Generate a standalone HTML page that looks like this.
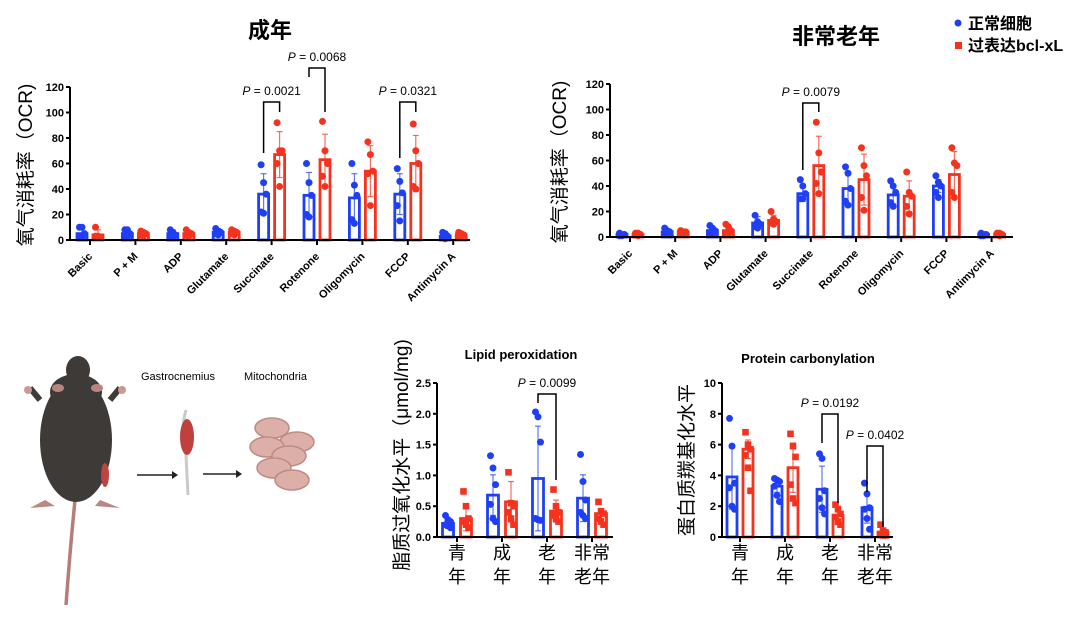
<!DOCTYPE html>
<html><head><meta charset="utf-8"><style>
body{margin:0;background:#fff;}
svg{display:block;font-family:"Liberation Sans","Noto Sans CJK SC",sans-serif;}
</style></head><body>
<svg id="fig" width="1079" height="622" viewBox="0 0 1079 622" xmlns="http://www.w3.org/2000/svg">
<rect width="1079" height="622" fill="#fff"/>
<text x="270" y="38" font-size="22" font-weight="bold" text-anchor="middle" font-family="'Liberation Sans','Noto Sans CJK SC',sans-serif">成年</text>
<text x="836" y="44" font-size="22" font-weight="bold" text-anchor="middle" font-family="'Liberation Sans','Noto Sans CJK SC',sans-serif">非常老年</text>
<g>
<circle cx="958" cy="23" r="3.5" fill="#1f3ff5"/>
<text x="968" y="29" font-size="16" font-weight="bold">正常细胞</text>
<rect x="955" y="42" width="7" height="7" fill="#f5321e"/>
<text x="968" y="51" font-size="16" font-weight="bold">过表达bcl-xL</text>
</g>
<g>
<path d="M75 500 Q70 550 66 605" stroke="#b87c78" stroke-width="3.5" fill="none"/>
<path d="M45 500 L30 508 L55 506 Z M100 500 L120 508 L95 506Z" fill="#b98884"/>
<path d="M40 400 L30 388 M110 400 L120 388" stroke="#3e3a37" stroke-width="6"/>
<circle cx="28" cy="390" r="4" fill="#c79a94"/><circle cx="122" cy="390" r="4" fill="#c79a94"/>
<ellipse cx="76" cy="440" rx="36" ry="62" fill="#3e3a37"/>
<ellipse cx="76" cy="392" rx="26" ry="18" fill="#3e3a37"/>
<ellipse cx="78" cy="370" rx="12" ry="14" fill="#3e3a37"/>
<ellipse cx="58" cy="388" rx="6" ry="4" fill="#b9857f"/><ellipse cx="97" cy="388" rx="6" ry="4" fill="#b9857f"/>
<ellipse cx="105" cy="475" rx="4" ry="12" fill="#c0443e"/>
<text x="141" y="380" font-size="11">Gastrocnemius</text>
<text x="244" y="380" font-size="11">Mitochondria</text>
<path d="M186 410 Q180 430 186 455 L188 495" stroke="#c9c9c9" stroke-width="3" fill="none"/>
<ellipse cx="187" cy="437" rx="7" ry="18" fill="#c0403d"/>
<line x1="137" y1="475" x2="172" y2="475" stroke="#222" stroke-width="1.5"/><path d="M172 471 L178 475 L172 479Z" fill="#222"/>
<line x1="203" y1="474" x2="236" y2="474" stroke="#222" stroke-width="1.5"/><path d="M236 470 L242 474 L236 478Z" fill="#222"/>
<g fill="#dcb0a8" stroke="#c08a84" stroke-width="1.5">
<ellipse cx="272" cy="428" rx="17" ry="10"/><ellipse cx="297" cy="442" rx="17" ry="10"/><ellipse cx="267" cy="447" rx="17" ry="10"/>
<ellipse cx="289" cy="456" rx="17" ry="10"/><ellipse cx="274" cy="468" rx="17" ry="10"/><ellipse cx="292" cy="480" rx="17" ry="10"/>
</g></g>
<g id="charts"></g>
</svg>
<script>
// ---- Chart A: adult OCR ----
const ocrCategories = ["Basic","P + M","ADP","Glutamate","Succinate","Rotenone","Oligomycin","FCCP","Antimycin A"];
const adultNormalMean = [5,5,5,6,36,35,33,36,3];
const adultNormalSD = [4,3,3,3,16,18,19,16,2];
const adultBclMean = [4,5,5,6,67,63,54,60,4];
const adultBclSD = [4,2,2,2,18,20,20,22,2];
const adultNormalPts = [[10,10,5,3,2],[8,8,5,3,2],[8,6,4,3,2],[9,7,6,5,4],[59,45,36,22,21],[60,45,35,20,18],[60,43,35,16,13],[56,46,37,27,15],[6,5,3,2,1]];
const adultBclPts = [[10,3,2,3,2],[7,6,5,4,3],[8,6,5,4,3],[8,7,6,5,4],[92,70,70,60,42],[93,70,60,50,42],[77,67,54,52,27],[91,70,60,42,40],[6,5,4,3,2]];
const ocrTicks = [0,20,40,60,80,100,120];
// ---- Chart B: very old OCR ----
const oldNormalMean = [2,4,5,11,34,38,33,40,2];
const oldNormalSD = [1,2,3,5,6,12,7,5,1];
const oldBclMean = [2,4,5,13,56,45,32,49,2];
const oldBclSD = [1,1,3,4,23,20,12,18,1];
const oldNormalPts = [[3,2,2,1,1],[7,5,4,3,2],[9,7,5,3,2],[17,12,10,8,7],[45,40,34,30,30],[55,50,38,28,25],[44,40,35,27,24],[48,43,40,35,31],[3,2,2,1,1]];
const oldBclPts = [[3,3,2,2,1],[5,4,4,3,3],[10,8,5,3,2],[20,14,12,11,10],[90,66,51,42,34],[70,56,48,31,21],[51,35,32,24,18],[70,58,56,35,31],[3,3,2,2,1]];
// ---- Chart C: lipid peroxidation ----
const ageGroups = [["青","年"],["成","年"],["老","年"],["非常","老年"]];
const lipidNormalMean = [0.22,0.68,0.95,0.63];
const lipidNormalSD = [0.08,0.33,0.85,0.38];
const lipidBclMean = [0.30,0.57,0.42,0.38];
const lipidBclSD = [0.2,0.33,0.18,0.08];
const lipidNormalPts = [[0.35,0.28,0.25,0.2,0.18,0.15],[1.32,1.12,0.85,0.53,0.3,0.25],[2.03,1.95,1.54,0.3,0.28,0.27],[1.34,0.9,0.6,0.4,0.35,0.3]];
const lipidBclPts = [[0.74,0.5,0.3,0.25,0.2,0.15],[1.05,0.55,0.5,0.4,0.3,0.2],[0.77,0.5,0.4,0.35,0.3,0.25],[0.57,0.42,0.38,0.3,0.25,0.2]];
const lipidTicks = ["0.0","0.5","1.0","1.5","2.0","2.5"];
// ---- Chart D: protein carbonylation ----
const protNormalMean = [3.9,3.3,3.1,1.9];
const protNormalSD = [2.1,0.4,1.5,1.0];
const protBclMean = [5.7,4.5,1.4,0.3];
const protBclSD = [0.6,1.6,0.6,0.3];
const protNormalPts = [[7.7,5.9,3.5,3.2,2,1.8],[3.8,3.7,3.6,3.3,2.7,2.3],[5.4,5.1,3,2.5,1.9,1.5],[3.5,2.8,1.9,1.8,1.2,0.5]];
const protBclPts = [[6.8,6.0,5.7,5.3,4.5,3.0],[6.7,5.9,5.2,3.4,2.5,2.2],[2.1,1.8,1.5,1.3,1.0,0.8],[0.8,0.4,0.3,0.2,0.1,0.1]];
const protTicks = [0,2,4,6,8,10];

const NS="http://www.w3.org/2000/svg";
const BLUE="#1f3ff5", RED="#f5321e";
const root=document.getElementById('charts');
function mk(tag,attrs,parent){const e=document.createElementNS(NS,tag);for(const k in attrs)e.setAttribute(k,attrs[k]);(parent||root).appendChild(e);return e;}

function chart(c){
  const g=mk('g',{});
  
  
  const n=c.cats.length;
  const y=v=>c.y0-(v/c.ymax)*(c.y0-c.ytop);
  const xc=i=>c.x0+c.xfirst+i*c.step;
  [[c.nm,c.nsd,c.npts,BLUE,-c.off,'circle'],[c.bm,c.bsd,c.bpts,RED,c.off,c.redShape]].forEach((s,si)=>{
    for(let i=0;i<n;i++){
      const cx=xc(i)+s[4];
      const bar=mk('rect',{x:cx-c.bw/2,y:y(s[0][i]),width:c.bw,height:Math.max(0,c.y0-y(s[0][i])),fill:'#fff',stroke:s[3],'stroke-width':2.8},g);
      
      
      const hi=y(s[0][i]+s[1][i]), lo=y(Math.max(0,s[0][i]-s[1][i]));
      mk('line',{x1:cx,x2:cx,y1:hi,y2:lo,stroke:s[3],'stroke-width':1.2,opacity:0.7},g);
      mk('line',{x1:cx-3,x2:cx+3,y1:hi,y2:hi,stroke:s[3],'stroke-width':1.2,opacity:0.7},g);
      mk('line',{x1:cx-3,x2:cx+3,y1:lo,y2:lo,stroke:s[3],'stroke-width':1.2,opacity:0.7},g);
      s[2][i].forEach((v,j)=>{
        const px=cx+((j%3)-1)*2.5;
        let p;
        if(s[5]==='square') p=mk('rect',{x:px-3.3,y:y(v)-3.3,width:6.6,height:6.6,fill:s[3]},g);
        else p=mk('circle',{cx:px,cy:y(v),r:3.5,fill:s[3]},g);
        
        
      });
    }
  });
  mk('line',{x1:c.x0,x2:c.x0,y1:c.ytop,y2:c.y0+1,stroke:'#000','stroke-width':2},g);
  mk('line',{x1:c.x0-1,x2:c.xend,y1:c.y0,y2:c.y0,stroke:'#000','stroke-width':2},g);
  c.ticks.forEach(t=>{
    const yy=y(parseFloat(t));
    mk('line',{x1:c.x0-4,x2:c.x0,y1:yy,y2:yy,stroke:'#000','stroke-width':2},g);
    const tx=mk('text',{x:c.x0-6,y:yy+4,'font-size':11,'font-weight':'bold','text-anchor':'end'},g);
    tx.textContent=t;
    
    
  });
  for(let i=0;i<n;i++){
    mk('line',{x1:xc(i),x2:xc(i),y1:c.y0,y2:c.y0+5,stroke:'#000','stroke-width':2},g);
    if(c.rotLabels){
      const t=mk('text',{x:xc(i)+3,y:c.y0+17,'font-size':11,'font-weight':'bold','text-anchor':'end',transform:`rotate(-45 ${xc(i)+3} ${c.y0+17})`},g);
      t.textContent=c.cats[i];
      
      
    } else {
      c.cats[i].forEach((ln,k)=>{
        const t=mk('text',{x:xc(i),y:c.y0+22+k*24,'font-size':18,'text-anchor':'middle'},g);
        t.textContent=ln;
        
        
      });
    }
  }
  const yl=mk('text',{x:c.ylx,y:c.yly,'font-size':c.ylfs,'text-anchor':'middle',transform:`rotate(-90 ${c.ylx} ${c.yly})`},g);
  yl.textContent=c.ylabel;
  
  
  if(c.title){const t=mk('text',{x:c.tx,y:c.ty,'font-size':13,'font-weight':'bold','text-anchor':'middle'},g);t.textContent=c.title;
    
    }
  (c.sig||[]).forEach(s=>{
    const i=s.i, xl=xc(i)-c.off, xr=xc(i)+c.off;
    mk('path',{d:`M${xl} ${s.l} V${s.top} H${xr} V${s.r}`,fill:'none',stroke:'#000','stroke-width':1.5},g);
    const t=mk('text',{x:(xl+xr)/2,y:s.top-7,'font-size':12,'text-anchor':'middle'},g);
    t.innerHTML='<tspan font-style="italic">P</tspan> = '+s.p;
    
    
  });
}
chart({name:'adult-ocr-chart',cats:ocrCategories,nm:adultNormalMean,nsd:adultNormalSD,bm:adultBclMean,bsd:adultBclSD,npts:adultNormalPts,bpts:adultBclPts,
  ticks:ocrTicks.map(String),ymax:120,x0:70,y0:240,ytop:87,xend:470,xfirst:20,step:45.4,off:8,bw:10,redShape:'circle',rotLabels:true,
  ylabel:'氧气消耗率（OCR)',ylx:32,yly:165,ylfs:19,
  sig:[{i:4,p:'0.0021',top:102,l:153,r:112},{i:5,p:'0.0068',top:68,l:77,r:112},{i:7,p:'0.0321',top:102,l:158,r:112}]});
chart({name:'very-old-ocr-chart',cats:ocrCategories,nm:oldNormalMean,nsd:oldNormalSD,bm:oldBclMean,bsd:oldBclSD,npts:oldNormalPts,bpts:oldBclPts,
  ticks:ocrTicks.map(String),ymax:120,x0:610,y0:237,ytop:84,xend:1013,xfirst:20,step:45.2,off:8,bw:10,redShape:'circle',rotLabels:true,
  ylabel:'氧气消耗率（OCR)',ylx:566,yly:162,ylfs:19,
  sig:[{i:4,p:'0.0079',top:103,l:170,r:112}]});
chart({name:'lipid-peroxidation-chart',cats:ageGroups,nm:lipidNormalMean,nsd:lipidNormalSD,bm:lipidBclMean,bsd:lipidBclSD,npts:lipidNormalPts,bpts:lipidBclPts,
  ticks:lipidTicks,ymax:2.5,x0:437,y0:537,ytop:383,xend:613,xfirst:20,step:45,off:9,bw:11,redShape:'square',rotLabels:false,
  ylabel:'脂质过氧化水平（μmol/mg)',ylx:408,yly:455,ylfs:19,title:'Lipid peroxidation',tx:521,ty:359,
  sig:[{i:2,p:'0.0099',top:394,l:403,r:480}]});
chart({name:'protein-carbonylation-chart',cats:ageGroups,nm:protNormalMean,nsd:protNormalSD,bm:protBclMean,bsd:protBclSD,npts:protNormalPts,bpts:protBclPts,
  ticks:protTicks.map(String),ymax:10,x0:722,y0:537,ytop:383,xend:893,xfirst:18,step:45,off:8,bw:10,redShape:'square',rotLabels:false,
  ylabel:'蛋白质羰基化水平',ylx:693,yly:460,ylfs:19,title:'Protein carbonylation',tx:808,ty:363,
  sig:[{i:2,p:'0.0192',top:414,l:443,r:503},{i:3,p:'0.0402',top:446,l:492,r:527}]});
</script>
</body></html>
